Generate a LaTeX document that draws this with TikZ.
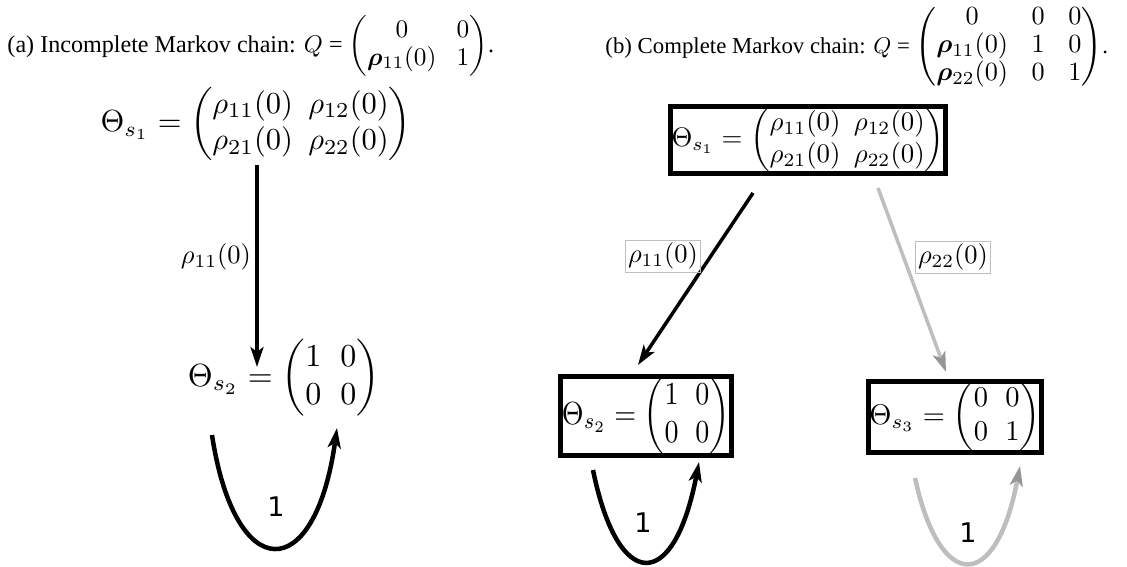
\documentclass[tikz,border=0pt]{standalone}
\usepackage{amsmath,bm}
\usepackage[no-math]{fontspec}
\setmainfont{Liberation Serif}
\newfontfamily\lblfont{DejaVu Sans}
\usetikzlibrary{arrows.meta}
\definecolor{lgray}{RGB}{190,190,190}
\definecolor{mgray}{RGB}{150,150,150}
\begin{document}
\begin{tikzpicture}[x=1pt,y=-1pt,
  captxt/.style={anchor=west,inner sep=0pt},
  matnode/.style={inner sep=0pt},
  statebox/.style={draw,line width=5pt,inner sep=0.4pt},
  edgeb/.style={line width=3.5pt,-{Stealth[length=20pt,width=13pt,inset=5pt]}},
  edgeg/.style={line width=3.5pt,draw=lgray,-{Stealth[length=20pt,width=13pt,inset=5pt,color=mgray]}},
  loopb/.style={edgeb,line width=4.5pt},
  loopg/.style={edgeg,line width=4.5pt},
  lbltxt/.style={inner sep=1pt,scale=2.65},
  lblbox/.style={lbltxt,draw=lgray,line width=0.35pt},
  onetxt/.style={font=\lblfont\fontsize{27}{30}\selectfont,inner sep=0pt}]
\useasboundingbox (0,0) rectangle (1127,567);

% ---------- (a) ----------
\node[captxt,scale=2.41] (capa) at (7,46) {(a) Incomplete Markov chain: $Q$ = \scalebox{1.05}{$\setlength{\arraycolsep}{4pt}\renewcommand{\arraystretch}{0.9}\begin{pmatrix}0 & 0\\ \bm{\rho}_{11}(0) & 1\end{pmatrix}$}.};

\node[matnode,scale=3.05] (a1) at (256,124)
  {$\setlength{\arraycolsep}{2.5pt}\Theta_{s_1} = \begin{pmatrix}\rho_{11}(0) & \rho_{12}(0)\\ \rho_{21}(0) & \rho_{22}(0)\end{pmatrix}$};
\node[matnode,scale=3.2] (a2) at (284,378)
  {$\setlength{\arraycolsep}{3pt}\Theta_{s_2} = \begin{pmatrix}1 & 0\\ 0 & 0\end{pmatrix}$};

\coordinate (a1out) at (257,165);
\coordinate (a2in) at (257,367);
\draw[edgeb] (a1out) -- (a2in);
\node[lbltxt] (la11) at (216,257) {$\rho_{11}(0)$};
\coordinate (a2l) at (212,435);
\coordinate (a2r) at (337,428);
\draw[loopb] (a2l) .. controls (235,586) and (315,586) .. (a2r);
\node[onetxt] (one1) at (276,507) {1};

% ---------- (b) ----------
\node[captxt,scale=2.28] (capb) at (605,47) {(b) Complete Markov chain: $Q$ = \scalebox{1.15}{$\setlength{\arraycolsep}{4.5pt}\renewcommand{\arraystretch}{0.9}\begin{pmatrix}0 & 0 & 0\\ \bm{\rho}_{11}(0) & 1 & 0\\ \bm{\rho}_{22}(0) & 0 & 1\end{pmatrix}$}.};

\node[statebox,scale=2.68] (b1) at (808,140)
  {$\setlength{\arraycolsep}{2.5pt}\Theta_{s_1} = \begin{pmatrix}\rho_{11}(0) & \rho_{12}(0)\\ \rho_{21}(0) & \rho_{22}(0)\end{pmatrix}$};
\node[statebox,xscale=2.8,yscale=3.2] (b2) at (646,416)
  {$\setlength{\arraycolsep}{3pt}\Theta_{s_2} = \begin{pmatrix}1 & 0\\ 0 & 0\end{pmatrix}$};
\node[statebox,scale=2.85] (b3) at (955,417)
  {$\setlength{\arraycolsep}{3pt}\Theta_{s_3} = \begin{pmatrix}0 & 0\\ 0 & 1\end{pmatrix}$};

\coordinate (b1l) at (753,193);
\coordinate (b2in) at (638,365);
\coordinate (b1r) at (878,188);
\coordinate (b3in) at (946,372);
\draw[edgeb] (b1l) -- (b2in);
\draw[edgeg] (b1r) -- (b3in);
\node[lblbox] (l11) at (663,256) {$\rho_{11}(0)$};
\node[lblbox] (l22) at (953,257) {$\rho_{22}(0)$};

\coordinate (b2l) at (593,470);
\coordinate (b2r) at (699,462);
\draw[loopb] (b2l) .. controls (618,593) and (674,593) .. (b2r);
\node[onetxt] (one2) at (643,523) {1};
\coordinate (b3l) at (915,478);
\coordinate (b3r) at (1020,466);
\draw[loopg] (b3l) .. controls (940,593) and (996,593) .. (b3r);
\node[onetxt] (one3) at (968,533) {1};
\end{tikzpicture}
\end{document}
